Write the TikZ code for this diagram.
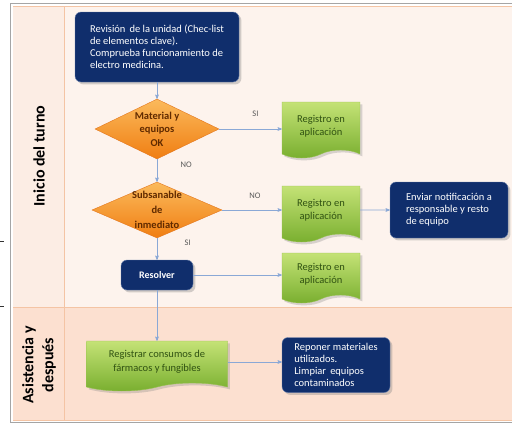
\documentclass[tikz,border=0pt]{standalone}
\usepackage{fontspec}
\setmainfont{Carlito}
\usetikzlibrary{positioning,shapes,shapes.symbols,arrows,shadows}
\definecolor{laneone}{RGB}{253,243,237}
\definecolor{lanehead}{RGB}{252,237,228}
\definecolor{lanetwo}{RGB}{252,224,208}
\definecolor{laneline}{RGB}{244,196,164}
\definecolor{framegray}{RGB}{165,165,165}
\definecolor{navy}{RGB}{16,46,108}
\definecolor{navyedge}{RGB}{100,124,170}
\definecolor{greentop}{RGB}{196,226,118}
\definecolor{greenbot}{RGB}{120,174,46}
\definecolor{greenedge}{RGB}{150,192,80}
\definecolor{greentext}{RGB}{48,82,18}
\definecolor{orangetop}{RGB}{251,186,92}
\definecolor{orangebot}{RGB}{240,126,18}
\definecolor{orangeedge}{RGB}{228,118,28}
\definecolor{browntext}{RGB}{96,42,0}
\definecolor{flowblue}{RGB}{138,168,214}

\begin{document}
\begin{tikzpicture}[x=1pt,y=-1pt,>=stealth',
    flow/.style={->,draw=flowblue,semithick},
    lbl/.style={text=black!65,font=\fontsize{8.5}{9}\selectfont},
    lane title/.style={rotate=90,align=center,font=\bfseries\fontsize{16}{20}\selectfont},
    navy box/.style={rectangle,rounded corners=6pt,fill=navy,draw=navyedge,text=white,align=left,
                     font=\fontsize{10.5}{12}\selectfont,drop shadow={opacity=0.35}},
    doc box/.style={tape,tape bend top=none,tape bend bottom=in and out,tape bend height=8pt,
                    top color=greentop,bottom color=greenbot,draw=greenedge,text=greentext,align=center,
                    font=\fontsize{10.5}{13.5}\selectfont,drop shadow={opacity=0.3}},
    decision/.style={diamond,aspect=2.1,inner sep=-9pt,top color=orangetop,bottom color=orangebot,
                     draw=orangeedge,text=browntext,align=center,font=\bfseries\fontsize{10.5}{13.5}\selectfont}
                    ]
  \useasboundingbox (0,0) rectangle (512,423);

  % swimlanes
  \fill[laneone] (13,6) rectangle (514,307);
  \fill[lanehead] (13,6) rectangle (64,307);
  \fill[lanetwo] (13,307) rectangle (514,420);
  \draw[laneline] (64,6) -- (64,420);
  \draw[laneline] (13,307) -- (514,307);
  \draw[laneline] (13,420) -- (514,420);
  \draw[laneline] (13,6) -- (514,6);
  \draw[framegray] (514,3) -- (10,3) -- (10,422) -- (514,422);
  \draw[black!80] (0,241) -- (4,241);
  \draw[black!80] (0,306) -- (4,306);

  \node[lane title] (lanea) at (39,156) {Inicio del turno};
  \node[lane title] (laneb) at (39,365) {Asistencia y\\después};

  % flow nodes
  \node[navy box,minimum width=164pt,minimum height=70pt] (rev) at (157,47)
       {Revisión\, de la unidad (Chec-list\\de elementos clave).\\Comprueba funcionamiento de\\electro medicina.};
  \node[decision,minimum width=124pt,minimum height=60pt] (mat) at (157,129) {Material y\\equipos\\OK};
  \node[doc box,minimum width=78pt,minimum height=56pt] (reg1) at (321,126) {Registro en\\aplicación};
  \node[decision,minimum width=130pt,minimum height=56pt,font=\bfseries\fontsize{10.5}{15}\selectfont] (sub) at (157,210)
       {Subsanable\\de\\inmediato};
  \node[doc box,minimum width=78pt,minimum height=56pt] (reg2) at (321,210) {Registro en\\aplicación};
  \node[navy box,minimum width=118pt,minimum height=56pt] (env) at (449,210)
       {Enviar notificación a\\responsable y resto\\de equipo};
  \node[navy box,minimum width=72pt,minimum height=30pt,font=\bfseries\fontsize{10}{12}\selectfont] (res) at (157,275) {Resolver};
  \node[doc box,minimum width=78pt,minimum height=50pt] (reg3) at (321,274) {Registro en\\aplicación};
  \node[doc box,minimum width=141pt,minimum height=50pt] (cons) at (157,362)
       {Registrar consumos de\\fármacos y fungibles};
  \node[navy box,minimum width=108pt,minimum height=55pt] (repo) at (336,365)
       {Reponer materiales\\utilizados.\\Limpiar\, equipos\\contaminados};

  % connectors
  \draw[flow] (rev) -- (mat);
  \draw[flow] (mat.east) -- node[lbl,above=9pt,pos=0.58] {SI} (mat.east -| reg1.west);
  \draw[flow] (mat) -- node[lbl,right=20pt,pos=0.25] {NO} (sub);
  \draw[flow] (sub.east) -- node[lbl,above=8pt,pos=0.55] {NO} (sub.east -| reg2.west);
  \draw[flow] (reg2) -- (env);
  \draw[flow] (sub) -- node[lbl,right=24pt,pos=0.2] {SI} (res);
  \draw[flow] (res.east) -- (res.east -| reg3.west);
  \draw[flow] (res) -- (cons);
  \draw[flow] (cons.east) -- (cons.east -| repo.west);
\end{tikzpicture}
\end{document}
